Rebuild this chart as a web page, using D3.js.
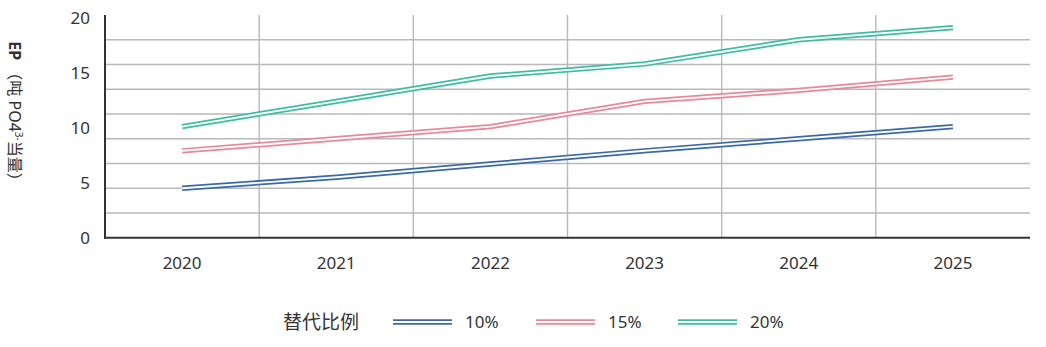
<!DOCTYPE html>
<html><head><meta charset="utf-8">
<script src="https://cdn.jsdelivr.net/npm/d3@7/dist/d3.min.js"></script>
<style>
html,body{margin:0;padding:0;background:#fff;}
text{font-family:"Noto Sans","Noto Sans CJK SC",sans-serif;fill:#333;}
</style></head>
<body><svg id="c" width="1046" height="347"></svg>
<script>
const categories = ["2020","2021","2022","2023","2024","2025"];
const seriesNames = ["10%","15%","20%"];
const s10 = [4.5, 5.5, 6.7, 7.9, 9.0, 10.1];
const s15 = [7.9, 9.0, 10.1, 12.4, 13.4, 14.6];
const s20 = [10.1, 12.4, 14.7, 15.8, 18.0, 19.1];
const yTicks = [0, 5, 10, 15, 20];
const colors = ["#3b6aa7", "#e8899a", "#3dbea2"];
const legendTitle = "替代比例";

const svg = d3.select("#c");
const L = 105, R = 1030, T = 15, B = 237.7;
const x = d3.scaleBand().domain(categories).range([L, R]);
const y = d3.scaleLinear().domain([0, 20.25]).range([B, T]);

// grid
const gridVals = d3.range(1, 9).map(i => i * 2.25);
svg.append("g").selectAll("line").data(gridVals).join("line")
  .attr("x1", L).attr("x2", R).attr("y1", d => y(d)).attr("y2", d => y(d))
  .attr("stroke", "#b9b9bd").attr("stroke-width", 1.4);
svg.append("g").selectAll("line").data(categories.slice(1)).join("line")
  .attr("x1", d => x(d)).attr("x2", d => x(d)).attr("y1", T).attr("y2", B)
  .attr("stroke", "#b9b9bd").attr("stroke-width", 1.4);

// axes
svg.append("line").attr("x1", L).attr("x2", L).attr("y1", T).attr("y2", B + 1)
  .attr("stroke", "#333").attr("stroke-width", 2);
svg.append("line").attr("x1", L - 1).attr("x2", R).attr("y1", B).attr("y2", B)
  .attr("stroke", "#333").attr("stroke-width", 2);

svg.append("g").selectAll("text").data(yTicks).join("text")
  .attr("x", 90).attr("y", d => y(d)).attr("dy", "0.35em")
  .attr("text-anchor", "end").attr("font-size", 17).text(d => d);
svg.append("g").selectAll("text").data(categories).join("text")
  .attr("x", d => x(d) + x.bandwidth() / 2).attr("y", 263).attr("dy", "0.35em")
  .attr("text-anchor", "middle").attr("font-size", 17).text(d => d);

// y label
const yl = svg.append("text").attr("transform", "translate(9,115) rotate(90)")
  .attr("text-anchor", "middle").attr("font-size", 16);
yl.append("tspan").attr("font-weight", "bold").text("EP ");
yl.append("tspan").text("（吨 PO4");
yl.append("tspan").attr("font-size", 10).attr("dy", -6).text("3-");
yl.append("tspan").attr("dy", 6).text("当量）");

// lines
const line = d3.line().x((d, i) => x(categories[i]) + x.bandwidth() / 2).y(d => y(d));
const all = [s10, s15, s20];
all.forEach((s, k) => {
  svg.append("path").attr("d", line(s)).attr("fill", "none")
    .attr("stroke", colors[k]).attr("stroke-width", 5.4);
  svg.append("path").attr("d", line(s)).attr("fill", "none")
    .attr("stroke", "#fff").attr("stroke-width", 1.9);
});

// legend
const ly = 322;
svg.append("text").attr("x", 283).attr("y", ly).attr("dy", "0.35em")
  .attr("font-size", 19).text(legendTitle);
const lx = [393, 536, 678];
seriesNames.forEach((n, k) => {
  svg.append("line").attr("x1", lx[k]).attr("x2", lx[k] + 59).attr("y1", ly).attr("y2", ly)
    .attr("stroke", colors[k]).attr("stroke-width", 5.4);
  svg.append("line").attr("x1", lx[k]).attr("x2", lx[k] + 59).attr("y1", ly).attr("y2", ly)
    .attr("stroke", "#fff").attr("stroke-width", 1.9);
  svg.append("text").attr("x", lx[k] + 72).attr("y", ly).attr("dy", "0.35em")
    .attr("font-size", 17).text(n);
});
</script></body></html>
